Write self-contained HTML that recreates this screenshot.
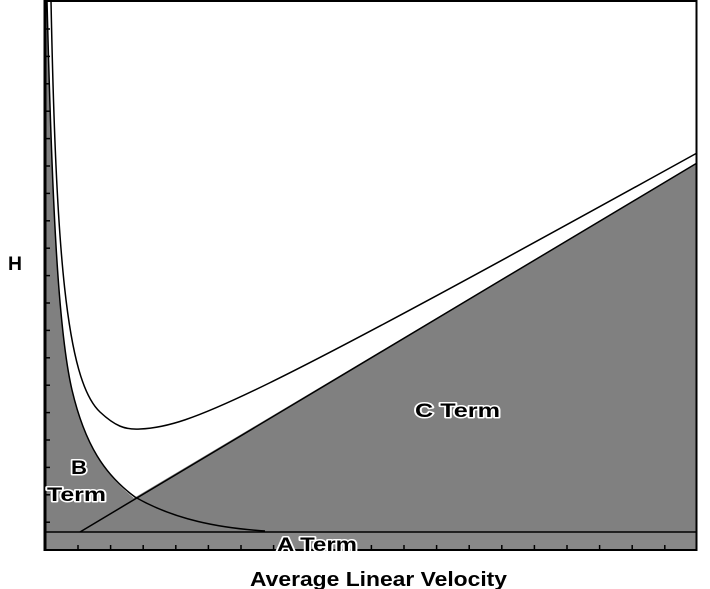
<!DOCTYPE html>
<html><head><meta charset="utf-8"><style>
html,body{margin:0;padding:0;background:#fff;}
svg{display:block}
text{font-family:"Liberation Sans",sans-serif;font-weight:bold;}
.lab{fill:#000;stroke:#fff;stroke-width:3px;paint-order:stroke;stroke-linejoin:round}
</style></head><body>
<svg width="710" height="589" viewBox="0 0 710 589" xmlns="http://www.w3.org/2000/svg">
<rect x="0" y="0" width="710" height="589" fill="#fff"/>
<path fill="#808080" d="M45,532 L45,1 L47,1 C52,200 58,330 72,390 C85,445 105,475 134,498 L697,163 L697,532 Z"/>
<rect x="44" y="532" width="653" height="18" fill="#888"/>
<line x1="44" y1="532" x2="697" y2="532" stroke="#000" stroke-width="1.5"/>
<path fill="none" stroke="#000" stroke-width="1.5" d="M47,1 C52,200 58,330 72,390 C85,445 105,475 135,497 C175,520 220,528 265,531"/>
<line x1="80" y1="532" x2="697" y2="163" stroke="#000" stroke-width="1.5"/>
<path fill="none" stroke="#000" stroke-width="1.5" d="M51,1 C56,250 66,380 100,412 C115,426 125,430 140,429 C190,427 250,400 697,153"/>
<g stroke="#000" stroke-width="1.5">
<line x1="44" y1="29" x2="50" y2="29"/><line x1="44" y1="56.4" x2="50" y2="56.4"/><line x1="44" y1="83.8" x2="50" y2="83.8"/><line x1="44" y1="111.2" x2="50" y2="111.2"/><line x1="44" y1="138.6" x2="50" y2="138.6"/><line x1="44" y1="166" x2="50" y2="166"/><line x1="44" y1="193.4" x2="50" y2="193.4"/><line x1="44" y1="220.8" x2="50" y2="220.8"/><line x1="44" y1="248.2" x2="50" y2="248.2"/><line x1="44" y1="275.6" x2="50" y2="275.6"/><line x1="44" y1="303" x2="50" y2="303"/><line x1="44" y1="330.4" x2="50" y2="330.4"/><line x1="44" y1="357.8" x2="50" y2="357.8"/><line x1="44" y1="385.2" x2="50" y2="385.2"/><line x1="44" y1="412.6" x2="50" y2="412.6"/><line x1="44" y1="440" x2="50" y2="440"/><line x1="44" y1="467.4" x2="50" y2="467.4"/><line x1="44" y1="494.8" x2="50" y2="494.8"/><line x1="44" y1="522.2" x2="50" y2="522.2"/>
<line x1="78" y1="545" x2="78" y2="550"/><line x1="110.6" y1="545" x2="110.6" y2="550"/><line x1="143.2" y1="545" x2="143.2" y2="550"/><line x1="175.8" y1="545" x2="175.8" y2="550"/><line x1="208.4" y1="545" x2="208.4" y2="550"/><line x1="241" y1="545" x2="241" y2="550"/><line x1="273.6" y1="545" x2="273.6" y2="550"/><line x1="306.2" y1="545" x2="306.2" y2="550"/><line x1="338.8" y1="545" x2="338.8" y2="550"/><line x1="371.4" y1="545" x2="371.4" y2="550"/><line x1="404" y1="545" x2="404" y2="550"/><line x1="436.6" y1="545" x2="436.6" y2="550"/><line x1="469.2" y1="545" x2="469.2" y2="550"/><line x1="501.8" y1="545" x2="501.8" y2="550"/><line x1="534.4" y1="545" x2="534.4" y2="550"/><line x1="567" y1="545" x2="567" y2="550"/><line x1="599.6" y1="545" x2="599.6" y2="550"/><line x1="632.2" y1="545" x2="632.2" y2="550"/><line x1="664.8" y1="545" x2="664.8" y2="550"/>
</g>
<rect x="44.5" y="1" width="652" height="549" fill="none" stroke="#000" stroke-width="2"/>
<line x1="45" y1="1" x2="45" y2="550" stroke="#000" stroke-width="3"/>
<text x="8" y="270" font-size="19" textLength="14" lengthAdjust="spacingAndGlyphs">H</text>
<text class="lab" x="415" y="417" font-size="19" textLength="85" lengthAdjust="spacingAndGlyphs">C Term</text>
<text class="lab" x="71" y="474" font-size="19" textLength="16" lengthAdjust="spacingAndGlyphs">B</text>
<text class="lab" x="47" y="501" font-size="19" textLength="59" lengthAdjust="spacingAndGlyphs">Term</text>
<text class="lab" x="277" y="551" font-size="19" textLength="80" lengthAdjust="spacingAndGlyphs">A Term</text>
<text x="250" y="586" font-size="20" textLength="257" lengthAdjust="spacingAndGlyphs">Average Linear Velocity</text>
</svg>
</body></html>
